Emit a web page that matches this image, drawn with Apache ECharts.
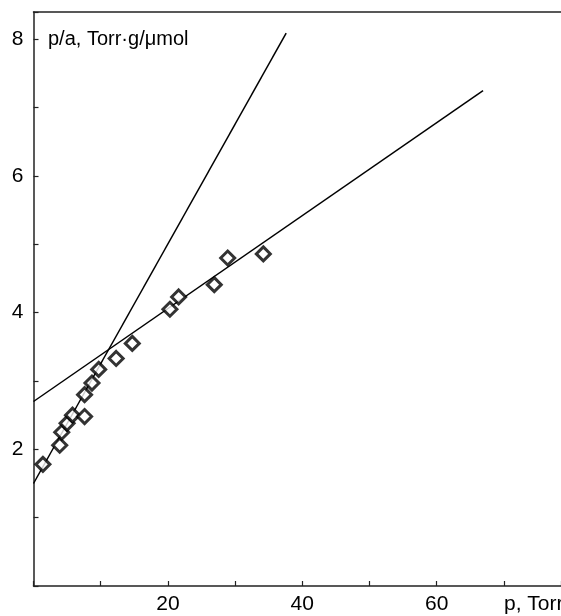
<!DOCTYPE html>
<html>
<head>
<meta charset="utf-8">
<script src="https://cdn.jsdelivr.net/npm/echarts@6/dist/echarts.min.js"></script>
<style>
html,body{margin:0;padding:0;background:#fff;}
#chart{width:561px;height:616px;}
</style>
</head>
<body>
<div id="chart"></div>
<script>
// measured points
const pressure = [1.4, 3.9, 4.2, 5.0, 5.8, 7.6, 7.6, 8.7, 9.7, 12.3, 14.7, 20.3, 21.6, 26.9, 28.9, 34.2];
const ratio    = [1.78, 2.06, 2.25, 2.38, 2.50, 2.48, 2.80, 2.97, 3.17, 3.33, 3.55, 4.05, 4.23, 4.41, 4.80, 4.86];
// fitted lines (end points)
const steepX = [0, 37.6];
const steepY = [1.50, 8.09];
const shallowX = [0, 66.9];
const shallowY = [2.70, 7.25];
// tick labels
const xTickLabels = [20, 40, 60];
const yTickLabels = [2, 4, 6, 8];
const yTitle = 'p/a, Torr·g/μmol';
const xTitle = 'p, Torr';

const FONT = 'Liberation Sans, Arial, sans-serif';
const chart = echarts.init(document.getElementById('chart'));
const axisLine = {show: true, lineStyle: {color: '#222', width: 1.5}};
chart.setOption({
  animation: false,
  backgroundColor: '#fff',
  grid: {left: 33.5, right: 0, top: 12, bottom: 30, containLabel: false, outerBoundsMode: 'none'},
  xAxis: [{
    type: 'value', min: 0, max: 78.5, interval: 10,
    axisLine: axisLine,
    axisTick: {show: true, inside: true, length: 5, lineStyle: {color: '#222', width: 1.2}},
    splitLine: {show: false},
    axisLabel: {
      margin: 8, color: '#000', fontSize: 21, fontFamily: FONT,
      formatter: v => xTickLabels.includes(v) ? String(v) : ''
    }
  }, {
    type: 'value', position: 'top', min: 0, max: 78.5,
    axisLine: axisLine, axisTick: {show: false}, axisLabel: {show: false}, splitLine: {show: false}
  }],
  yAxis: {
    type: 'value', min: 0, max: 8.4, interval: 1,
    axisLine: axisLine,
    axisTick: {show: true, inside: true, length: 5, lineStyle: {color: '#222', width: 1.2}},
    splitLine: {show: false},
    axisLabel: {
      margin: 10, color: '#000', fontSize: 21, fontFamily: FONT,
      formatter: v => yTickLabels.includes(v) ? String(v) : ''
    }
  },
  graphic: [
    {type: 'text', left: 48, top: 29, style: {text: yTitle, fill: '#000', font: '20px ' + FONT}},
    {type: 'text', left: 504, top: 594, style: {text: xTitle, fill: '#000', font: '21px ' + FONT}}
  ],
  series: [
    {
      type: 'line', data: steepX.map((x, i) => [x, steepY[i]]),
      symbol: 'none', lineStyle: {color: '#000', width: 1.5}, z: 2
    },
    {
      type: 'line', data: shallowX.map((x, i) => [x, shallowY[i]]),
      symbol: 'none', lineStyle: {color: '#000', width: 1.5}, z: 2
    },
    {
      type: 'scatter', data: pressure.map((x, i) => [x, ratio[i]]),
      symbol: 'diamond', symbolSize: 14,
      itemStyle: {color: '#fff', borderColor: '#000', borderWidth: 3}, z: 3
    }
  ]
});
</script>
</body>
</html>
